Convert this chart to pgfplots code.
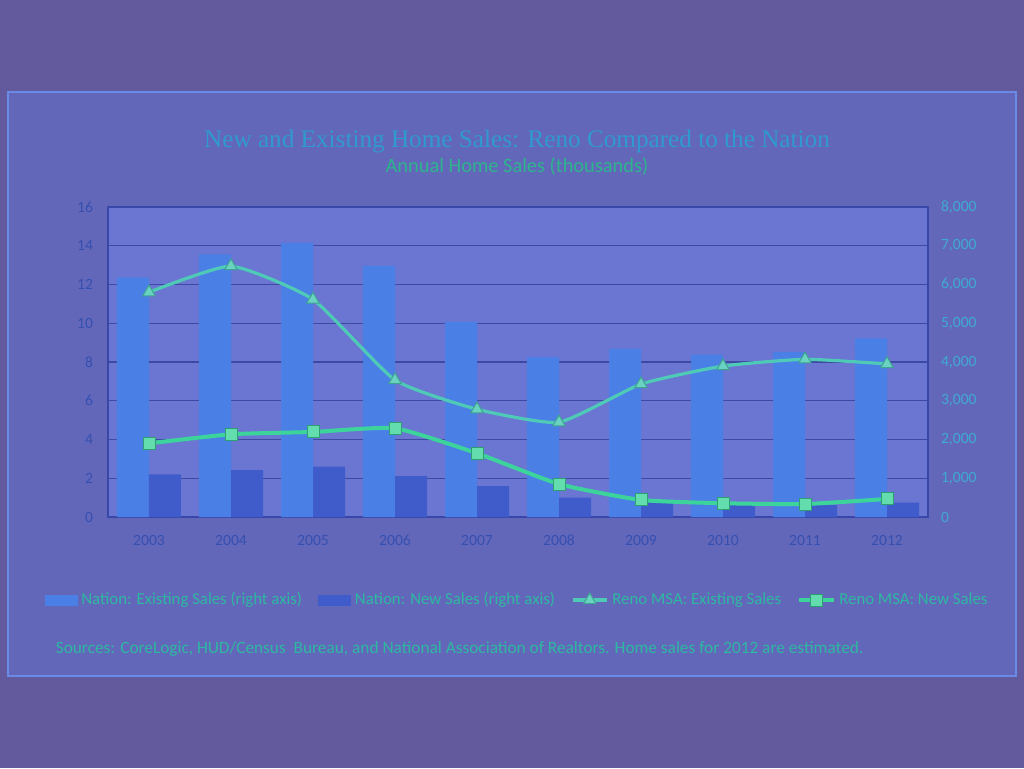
\documentclass[border=0pt]{standalone}
\usepackage{pgfplots}
\pgfplotsset{compat=1.18}
\usepackage{fontspec}
\setmainfont{Carlito}
\newfontfamily\titlefont{Liberation Serif}
\definecolor{pagebg}{HTML}{625A9C}
\definecolor{panelfill}{HTML}{6367BA}
\definecolor{panelborder}{HTML}{6A8AE8}
\definecolor{plotfill}{HTML}{6A76D2}
\definecolor{gridc}{HTML}{3C4AA2}
\definecolor{framec}{HTML}{3848A8}
\definecolor{existbar}{HTML}{4A80E6}
\definecolor{newbar}{HTML}{3F5CCA}
\definecolor{renoex}{HTML}{4FCAB6}
\definecolor{renonew}{HTML}{3CD49A}
\definecolor{titlec}{HTML}{2F9AD0}
\definecolor{subc}{HTML}{2DB48C}
\definecolor{tickc}{HTML}{3550B0}
\definecolor{rtickc}{HTML}{3FAAD0}
\definecolor{legc}{HTML}{2DB8A0}

\pgfplotstableread{
x exist new renoex renonew
0 6175 1101 11.60 3.80
1 6780 1213 12.95 4.27
2 7075 1299 11.23 4.39
3 6478 1058 7.07 4.58
4 5035 800 5.56 3.29
5 4125 499 4.89 1.70
6 4340 375 6.86 0.88
7 4190 323 7.79 0.71
8 4258 306 8.14 0.67
9 4611 368 7.90 0.93
}\datatable

\begin{document}
\begin{tikzpicture}[x=1pt,y=1pt]
\fill[pagebg] (0,0) rectangle (512,384);
\draw[panelborder, fill=panelfill, line width=0.8pt] (4,46) rectangle (508,338);

% bars, right axis
\begin{axis}[
  at={(54pt,125.5pt)}, anchor=south west, scale only axis,
  width=410pt, height=155pt,
  xmin=-0.5, xmax=9.5, ymin=0, ymax=8000,
  axis background/.style={fill=plotfill},
  axis line style={framec, line width=0.8pt},
  ytick={0,1000,...,8000}, ytick pos=right,
  xtick={0,...,9}, xticklabels={2003,2004,2005,2006,2007,2008,2009,2010,2011,2012},
  xtick pos=bottom,
  major tick length=0pt,
  ymajorgrids, grid style={gridc, line width=0.6pt},
  /pgf/number format/assume math mode=true,
  /pgf/number format/1000 sep={,},
  scaled y ticks=false,
  yticklabel style={font=\fontsize{7.8}{9}\selectfont, text=rtickc, xshift=3pt},
  xticklabel style={font=\fontsize{7.8}{9}\selectfont, text=tickc, yshift=-5.5pt},
]
\addplot[ybar, bar width=16pt, bar shift=-8pt, fill=existbar, draw=none] table[x=x, y=exist] {\datatable};
\addplot[ybar, bar width=16pt, bar shift=8pt, fill=newbar, draw=none] table[x=x, y=new] {\datatable};
\end{axis}

% lines, left axis
\begin{axis}[
  at={(54pt,125.5pt)}, anchor=south west, scale only axis,
  width=410pt, height=155pt,
  xmin=-0.5, xmax=9.5, ymin=0, ymax=16,
  axis y line*=left, hide x axis,
  axis line style={framec, line width=0.8pt},
  ytick={0,2,...,16},
  major tick length=0pt,
  /pgf/number format/assume math mode=true,
  yticklabel style={font=\fontsize{7.8}{9}\selectfont, text=tickc, xshift=-4pt},
  legend columns=4,
  legend style={at={(0.5,-0.268)}, anchor=center, draw=none, fill=none,
    font=\fontsize{8.4}{10}\selectfont, text=legc,
    /tikz/every even column/.append style={column sep=6pt}},
  legend cell align=left,
]
\addlegendimage{legend image code/.code={\fill[existbar] (0pt,-2.5pt) rectangle (16pt,2.5pt);}}
\addlegendentry{Nation: Existing Sales (right axis)}
\addlegendimage{legend image code/.code={\fill[newbar] (0pt,-2.5pt) rectangle (16pt,2.5pt);}}
\addlegendentry{Nation: New Sales (right axis)}
\addplot[renoex, line width=1.6pt, smooth, tension=0.3, mark=triangle*, mark size=3.6pt,
  mark options={fill=renoex!85!white, draw=renoex!80!black, line width=0.5pt}]
  table[x=x, y=renoex] {\datatable};
\addlegendentry{Reno MSA: Existing Sales}
\addplot[renonew, line width=2pt, smooth, tension=0.3, mark=square*, mark size=3pt,
  mark options={fill=renonew!80!white, draw=renonew!75!black, line width=0.5pt}]
  table[x=x, y=renonew] {\datatable};
\addlegendentry{Reno MSA: New Sales}
\end{axis}

\node[text=titlec, font=\titlefont\fontsize{12.6}{14}\selectfont] at (258.5,313.5) {New and Existing Home Sales: Reno Compared to the Nation};
\node[text=subc, font=\fontsize{10.2}{12}\selectfont] at (258.5,301) {Annual Home Sales (thousands)};
\node[text=legc, font=\fontsize{8.65}{10}\selectfont] at (229.8,59.5) {Sources: CoreLogic, HUD/Census\ \ Bureau, and National Association of Realtors. Home sales for 2012 are estimated.};
\end{tikzpicture}
\end{document}
